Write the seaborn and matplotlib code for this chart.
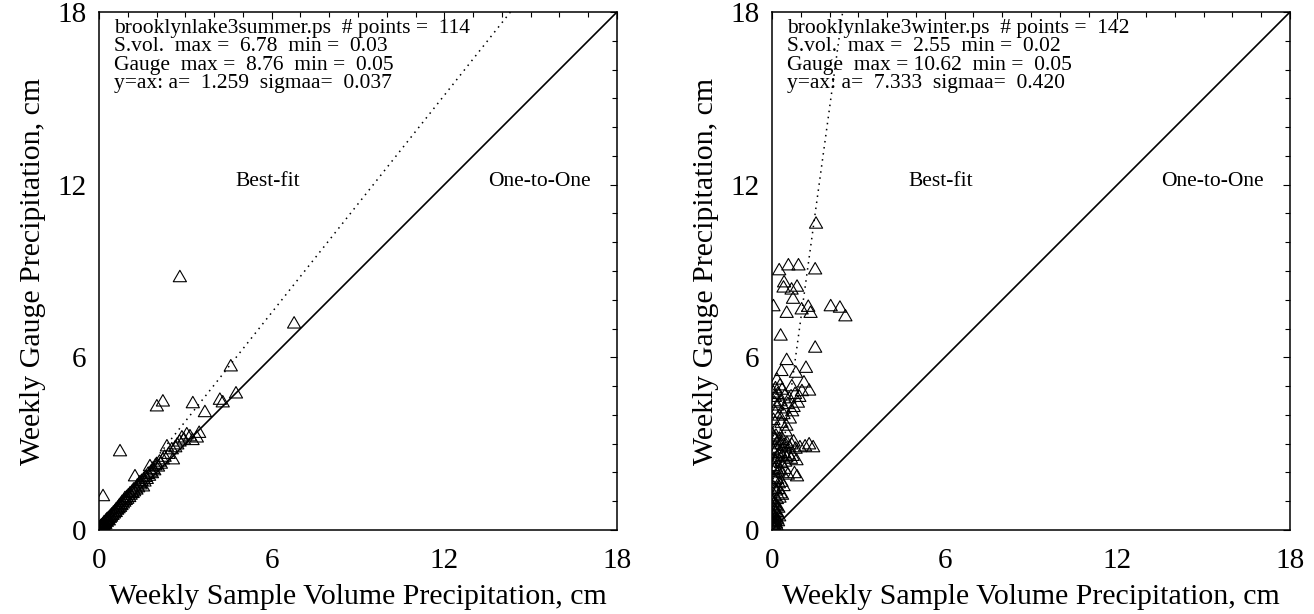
import matplotlib
matplotlib.use("Agg")
import matplotlib.pyplot as plt
from matplotlib.path import Path
from matplotlib.ticker import MultipleLocator
import numpy as np
import pandas as pd
import seaborn as sns

sns.set_theme(style="white")
plt.rcParams['font.family'] = ['Liberation Serif', 'DejaVu Serif']

# summer: sample volume (x) vs gauge (y), cm
summer_svol = [0.03, 0.05, 0.06, 0.08, 0.10, 0.11, 0.12, 0.14, 0.15, 0.17, 0.18, 0.20, 0.22, 0.23,
               0.25, 0.27, 0.28, 0.30, 0.32, 0.34, 0.36, 0.38, 0.40, 0.42, 0.45, 0.47, 0.50, 0.52,
               0.55, 0.58, 0.60, 0.63, 0.65, 0.68, 0.70, 0.73, 0.75, 0.78, 0.80, 0.83, 0.86, 0.88,
               0.90, 0.93, 0.96, 0.98,
               1.02, 1.05, 1.08, 1.10, 1.14, 1.17, 1.20, 1.22, 1.25, 1.27, 1.30, 1.33, 1.36, 1.40,
               1.42, 1.45, 1.48, 1.53, 1.55, 1.58,
               1.62, 1.66, 1.70, 1.74, 1.77, 1.80, 1.84, 1.88, 1.92, 1.96, 2.01, 2.05, 2.10, 2.15,
               2.22, 2.28, 2.36, 2.42, 2.53, 2.57,
               2.65, 2.72, 2.80, 2.88, 2.95, 3.05, 3.16, 3.25, 3.40, 3.48,
               2.81, 6.78, 4.58, 4.76, 4.20, 4.30, 3.26, 3.68, 2.01, 2.22, 0.73, 0.14,
               0.04, 0.07, 0.09, 0.13, 0.19, 0.26]
summer_gauge = [0.05, 0.08, 0.10, 0.07, 0.12, 0.15, 0.10, 0.18, 0.13, 0.20, 0.25, 0.22, 0.19, 0.28,
                0.30, 0.26, 0.35, 0.33, 0.38, 0.31, 0.42, 0.40, 0.47, 0.44, 0.52, 0.50, 0.58, 0.55,
                0.63, 0.60, 0.70, 0.68, 0.75, 0.73, 0.82, 0.78, 0.88, 0.84, 0.95, 0.90, 1.00, 0.96,
                1.08, 1.02, 1.12, 1.06,
                1.18, 1.12, 1.25, 1.20, 1.30, 1.26, 1.38, 1.32, 1.84, 1.42, 1.38, 1.52, 1.46, 1.60,
                1.63, 1.56, 1.68, 1.49, 1.74, 1.66,
                1.82, 1.75, 1.92, 1.86, 2.19, 2.00, 1.95, 2.10, 2.05, 2.22, 2.26, 2.18, 2.35, 2.28,
                2.43, 2.52, 2.88, 2.62, 2.78, 2.43,
                2.85, 2.95, 3.05, 3.19, 3.12, 3.30, 3.23, 3.10, 3.19, 3.35,
                8.76, 7.15, 5.66, 4.72, 4.50, 4.41, 4.38, 4.07, 4.27, 4.44, 2.71, 1.15,
                0.06, 0.12, 0.09, 0.16, 0.17, 0.32]

# winter
winter_svol = [1.53, 0.25, 0.57, 0.92, 1.50, 0.42, 0.40, 0.68, 0.87, 0.73, 0.05, 0.51, 1.03, 1.26,
               1.34, 2.04, 2.36, 2.55, 0.30, 1.50, 0.51, 0.33, 0.83, 1.18, 0.17, 0.28, 0.12, 0.69,
               1.11, 1.04, 1.29,
               0.05, 0.10, 0.20, 0.35, 0.45, 0.60, 0.80, 0.95, 0.08, 0.18, 0.30, 0.42, 0.55, 0.75,
               0.90, 0.12, 0.25, 0.40, 0.62, 0.70, 0.05, 0.33, 0.50, 0.15, 0.48,
               0.02, 0.06, 0.10, 0.14, 0.20, 0.26, 0.32, 0.38, 0.44, 0.52, 0.60, 0.68, 0.75, 0.82,
               0.97, 1.15, 1.29, 1.43, 0.04, 0.09, 0.16, 0.22, 0.28, 0.35, 0.42, 0.50, 0.58, 0.66,
               0.72, 0.85, 0.07, 0.13, 0.19, 0.31, 0.46,
               0.03, 0.08, 0.14, 0.21, 0.27, 0.36, 0.44, 0.55, 0.87, 0.78, 0.05, 0.11, 0.18, 0.24,
               0.33, 0.40, 0.06, 0.15, 0.22, 0.30, 0.09, 0.17, 0.26, 0.04, 0.35,
               0.02, 0.07, 0.12, 0.17, 0.22, 0.05, 0.10, 0.15, 0.20, 0.03, 0.08, 0.13, 0.18, 0.25,
               0.04, 0.09, 0.14, 0.06, 0.11, 0.03, 0.08, 0.16, 0.05, 0.21, 0.12, 0.02]
winter_gauge = [10.62, 9.00, 9.17, 9.17, 9.03, 8.58, 8.40, 8.33, 8.43, 8.01, 7.75, 7.52, 7.64, 7.73,
                7.52, 7.75, 7.70, 7.40, 6.73, 6.31, 5.88, 5.50, 5.44, 5.61, 5.20, 5.00, 4.90, 4.97,
                5.10, 4.80, 4.82,
                4.75, 4.60, 4.70, 4.85, 4.65, 4.55, 4.70, 4.60, 4.40, 4.30, 4.45, 4.20, 4.35, 4.25,
                4.40, 4.05, 3.95, 4.00, 3.85, 4.10, 3.80, 3.70, 3.60, 3.50, 3.40,
                3.30, 3.20, 3.10, 3.25, 3.05, 3.15, 2.95, 3.10, 2.90, 3.00, 2.85, 2.95, 3.05, 2.80,
                2.85, 2.88, 2.95, 2.85, 2.75, 2.65, 2.80, 2.60, 2.70, 2.55, 2.65, 2.50, 2.60, 2.45,
                2.55, 2.40, 2.45, 2.35, 2.50, 2.30, 2.35,
                2.20, 2.10, 2.15, 2.00, 2.05, 1.95, 2.10, 1.90, 1.84, 1.95, 1.80, 1.70, 1.75, 1.60,
                1.65, 1.50, 1.45, 1.35, 1.40, 1.25, 1.15, 1.05, 1.10, 1.00, 1.20,
                0.95, 0.90, 0.85, 0.80, 0.75, 0.70, 0.65, 0.60, 0.55, 0.50, 0.45, 0.40, 0.35, 0.45,
                0.30, 0.25, 0.20, 0.15, 0.10, 0.08, 0.05, 0.12, 0.20, 0.28, 0.30, 0.12]

slopes = [1.259, 7.333]
info = [["brooklynlake3summer.ps  # points =  114",
         "S.vol.  max =  6.78  min =  0.03",
         "Gauge  max =  8.76  min =  0.05",
         "y=ax: a=  1.259  sigmaa=  0.037"],
        ["brooklynlake3winter.ps  # points =  142",
         "S.vol.  max =  2.55  min =  0.02",
         "Gauge  max = 10.62  min =  0.05",
         "y=ax: a=  7.333  sigmaa=  0.420"]]

# open triangle like IDL psym=5
tri = Path([(-0.866, -0.5), (0.866, -0.5), (0.0, 1.0), (-0.866, -0.5)],
           [Path.MOVETO, Path.LINETO, Path.LINETO, Path.CLOSEPOLY])

W, H = 1314, 614
fig = plt.figure(figsize=(W / 100, H / 100), dpi=100)
ax1 = fig.add_axes([99 / W, (H - 530) / H, 518 / W, 518 / H])
ax2 = fig.add_axes([772 / W, (H - 530) / H, 518 / W, 518 / H])

datasets = [(summer_svol, summer_gauge), (winter_svol, winter_gauge)]
for ax, (xs, ys), a, lines in zip([ax1, ax2], datasets, slopes, info):
    df = pd.DataFrame({'svol': xs, 'gauge': ys})
    sns.scatterplot(data=df, x='svol', y='gauge', ax=ax, marker=tri, s=120,
                    facecolors='none', edgecolor='black', linewidth=0.8, zorder=3)
    xx = np.array([0, 18])
    ax.plot(xx, xx, color='black', lw=1.2)
    ax.plot(xx, a * xx, color='black', lw=1.1, ls=(0, (1, 3)))
    ax.set_xlim(0, 18)
    ax.set_ylim(0, 18)
    ax.xaxis.set_major_locator(MultipleLocator(6))
    ax.yaxis.set_major_locator(MultipleLocator(6))
    ax.xaxis.set_minor_locator(MultipleLocator(1))
    ax.yaxis.set_minor_locator(MultipleLocator(1))
    ax.tick_params(which='both', direction='in', top=True, right=True, width=0.8,
                   color='black', labelsize=21, labelcolor='black')
    ax.tick_params(which='major', length=5)
    ax.tick_params(which='minor', length=3.5)
    ax.tick_params(axis='x', which='major', pad=13)
    ax.tick_params(axis='y', which='major', pad=9)
    for sp in ax.spines.values():
        sp.set_color('black')
        sp.set_linewidth(1.1)
    ax.set_xlabel('Weekly Sample Volume Precipitation, cm', fontsize=21.5, color='black', labelpad=7)
    ax.set_ylabel('Weekly Gauge Precipitation, cm', fontsize=21.5, color='black', labelpad=8)
    for i, t in enumerate(lines):
        ax.text(0.029, 0.968 - i * 0.0355, t, transform=ax.transAxes, fontsize=15.5,
                ha='left', va='center', color='black')
    ax.text(5.85, 12.1, 'Best-fit', fontsize=15.5, ha='center', va='center', color='black')
    ax.text(15.3, 12.1, 'One-to-One', fontsize=15.5, ha='center', va='center', color='black')

fig.savefig('out.png', dpi=100)
